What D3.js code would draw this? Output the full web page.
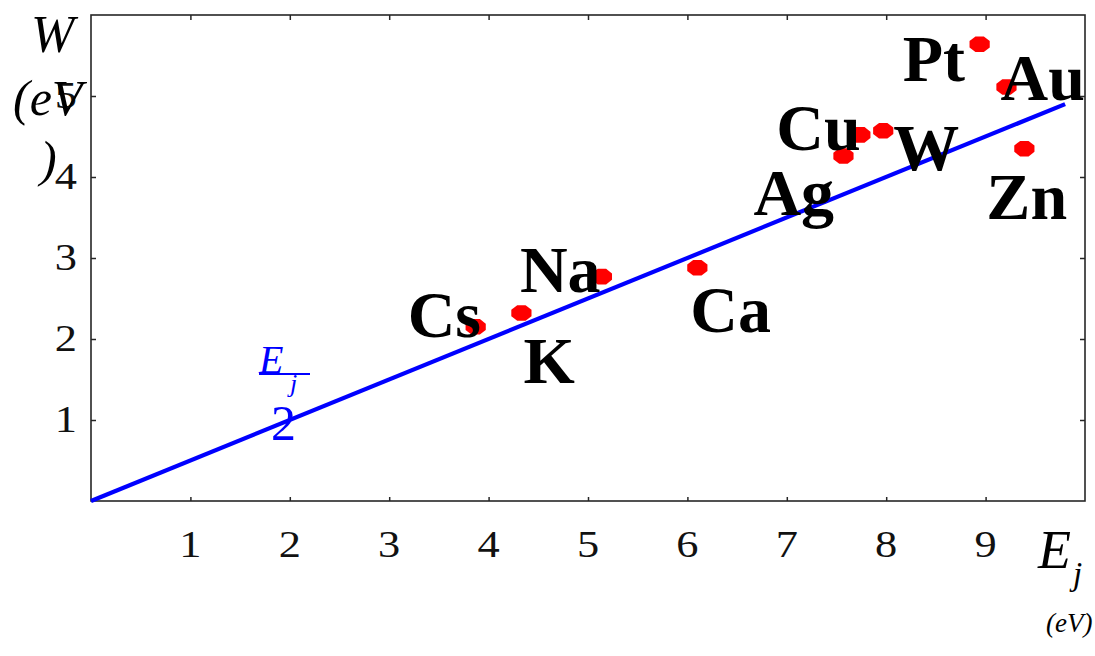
<!DOCTYPE html>
<html>
<head>
<meta charset="utf-8">
<script src="https://cdn.jsdelivr.net/npm/d3@7"></script>
<style>
  html, body { margin: 0; padding: 0; background: #ffffff; }
  svg { display: block; }
  text { font-family: "Liberation Serif", "Times New Roman", serif; }
</style>
</head>
<body>
<svg id="chart" width="1095" height="656"></svg>
<script>
// Metals, their E_j (eV) and work function W (eV)
const metals = ["Cs", "K", "Na", "Ca", "Ag", "Cu", "W", "Zn", "Pt", "Au"];
const energyJ = [3.87, 4.33, 5.14, 6.10, 7.57, 7.74, 7.97, 9.39, 8.94, 9.21];
const workFn = [2.15, 2.32, 2.77, 2.88, 4.26, 4.52, 4.57, 4.35, 5.64, 5.11];

// Reference line W = E_j / 2
const lineE = [0, 9.8];
const lineW = [0, 4.9];

// Axis ticks
const xTicks = [1, 2, 3, 4, 5, 6, 7, 8, 9];
const yTicks = [1, 2, 3, 4, 5];

// Label placement relative to each marker (pixels: left edge, baseline)
const labelOffset = {
  Cs: [-68, 10], K: [2, 70], Na: [-82, 15], Ca: [-7, 64], Ag: [-90, 59],
  Cu: [-84, 15], W: [10, 39], Zn: [-38, 70], Pt: [-77, 37], Au: [-6, 13]
};

const svg = d3.select("#chart");
const plotLeft = 91, plotRight = 1085, plotTop = 15, plotBottom = 501;

const x = d3.scaleLinear().domain([0, 10]).range([plotLeft, plotRight]);
const y = d3.scaleLinear().domain([0, 6]).range([plotBottom, plotTop]);

const axisColor = "#262626";

// Frame axes with inward ticks on all four sides
function styleAxis(g) {
  g.select(".domain").remove();
  g.selectAll(".tick line").attr("stroke", axisColor).attr("stroke-width", 1.5);
}
svg.append("g").attr("transform", `translate(0,${plotBottom})`)
  .call(d3.axisBottom(x).tickValues(xTicks).tickSize(-4).tickFormat(""))
  .call(styleAxis);
svg.append("g").attr("transform", `translate(0,${plotTop})`)
  .call(d3.axisTop(x).tickValues(xTicks).tickSize(-5).tickFormat(""))
  .call(styleAxis);
svg.append("g").attr("transform", `translate(${plotLeft},0)`)
  .call(d3.axisLeft(y).tickValues(yTicks).tickSize(-5).tickFormat(""))
  .call(styleAxis);
svg.append("g").attr("transform", `translate(${plotRight},0)`)
  .call(d3.axisRight(y).tickValues(yTicks).tickSize(-5).tickFormat(""))
  .call(styleAxis);

svg.append("rect")
  .attr("x", plotLeft).attr("y", plotTop)
  .attr("width", plotRight - plotLeft).attr("height", plotBottom - plotTop)
  .attr("fill", "none").attr("stroke", axisColor).attr("stroke-width", 1.6);

// Tick labels
svg.append("g").selectAll("text").data(xTicks).join("text")
  .attr("transform", d => `translate(${x(d)},557) scale(1.2,1)`)
  .attr("text-anchor", "middle")
  .attr("font-size", 37)
  .attr("fill", "#111")
  .text(d => d);
svg.append("g").selectAll("text").data(yTicks).join("text")
  .attr("transform", d => `translate(77,${y(d) + 12}) scale(1.2,1)`)
  .attr("text-anchor", "end")
  .attr("font-size", 37)
  .attr("fill", "#111")
  .text(d => d);

// Reference line
svg.append("path")
  .datum(d3.zip(lineE, lineW))
  .attr("d", d3.line().x(d => x(d[0])).y(d => y(d[1])))
  .attr("fill", "none")
  .attr("stroke", "#0000ff")
  .attr("stroke-width", 4.2);

// Line label: E_j over 2
const frac = svg.append("g").attr("fill", "#0000ff");
frac.append("text").attr("x", 259).attr("y", 373)
  .attr("font-size", 40).attr("font-style", "italic").text("E");
frac.append("text").attr("x", 290).attr("y", 392)
  .attr("font-size", 26).attr("font-style", "italic").text("j");
frac.append("line").attr("x1", 259).attr("x2", 310).attr("y1", 374).attr("y2", 374)
  .attr("stroke", "#0000ff").attr("stroke-width", 1.8);
frac.append("text").attr("x", 271).attr("y", 440)
  .attr("font-size", 50).text("2");

// Octagonal markers
const octagon = {
  draw(ctx, size) {
    const r = Math.sqrt(size / (2 * Math.SQRT2));
    for (let i = 0; i < 8; i++) {
      const a = Math.PI / 8 + i * Math.PI / 4;
      const px = r * Math.cos(a), py = r * Math.sin(a);
      if (i === 0) ctx.moveTo(px, py); else ctx.lineTo(px, py);
    }
    ctx.closePath();
  }
};
const points = metals.map((m, i) => ({ name: m, e: energyJ[i], w: workFn[i] }));

svg.append("g").selectAll("path").data(points).join("path")
  .attr("d", d3.symbol().type(octagon).size(200))
  .attr("transform", d => `translate(${x(d.e)},${y(d.w)}) scale(1.3,1)`)
  .attr("fill", "#ff0000");

// Element labels
svg.append("g").selectAll("text").data(points).join("text")
  .attr("x", d => x(d.e) + labelOffset[d.name][0])
  .attr("y", d => y(d.w) + labelOffset[d.name][1])
  .attr("font-size", 66)
  .attr("font-weight", "bold")
  .attr("fill", "#000")
  .text(d => d.name);

// Axis titles
const ytitle = svg.append("g").attr("font-style", "italic").attr("fill", "#000");
ytitle.append("text").attr("x", 31).attr("y", 52).attr("font-size", 52).text("W");
ytitle.append("text").attr("x", 13).attr("y", 115).attr("font-size", 50).text("(eV");
ytitle.append("text").attr("x", 40).attr("y", 176).attr("font-size", 50).text(")");

const xtitle = svg.append("g").attr("font-style", "italic").attr("fill", "#000");
xtitle.append("text").attr("x", 1038).attr("y", 568).attr("font-size", 54).text("E");
xtitle.append("text").attr("x", 1073).attr("y", 585).attr("font-size", 33).text("j");
xtitle.append("text").attr("x", 1046).attr("y", 632).attr("font-size", 27).text("(eV)");
</script>
</body>
</html>
